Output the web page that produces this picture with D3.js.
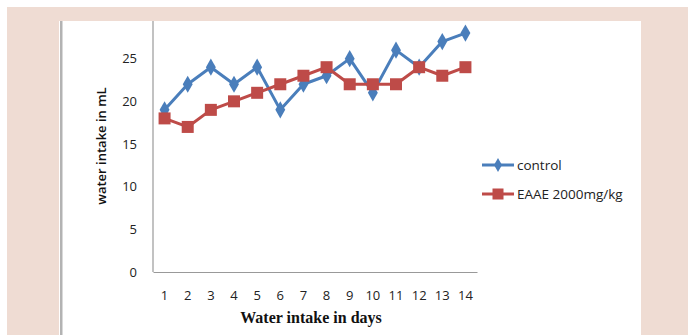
<!DOCTYPE html>
<html>
<head>
<meta charset="utf-8">
<script src="https://cdn.jsdelivr.net/npm/d3@7/dist/d3.min.js"></script>
<style>
  html, body { margin: 0; padding: 0; background: #fff; }
  svg { display: block; }
</style>
</head>
<body>
<svg id="chart" width="688" height="335"></svg>
<script>
// Daily water intake (mL) over 14 days
const days = [1, 2, 3, 4, 5, 6, 7, 8, 9, 10, 11, 12, 13, 14];
const controlValues = [19, 22, 24, 22, 24, 19, 22, 23, 25, 21, 26, 24, 27, 28];
const eaaeValues = [18, 17, 19, 20, 21, 22, 23, 24, 22, 22, 22, 24, 23, 24];
const yTicks = [0, 5, 10, 15, 20, 25];
const seriesNames = ["control", "EAAE 2000mg/kg"];

const svg = d3.select("#chart");
const pink = "#efdcd3";
const blue = "#4a7ebb";
const red = "#be4b48";
const sans = "'Open Sans', 'Noto Sans', sans-serif";

// plot area
const left = 153, right = 477, bottom = 272;
const x = d3.scaleBand().domain(days).range([left, right]);
const y = d3.scaleLinear().domain([0, 30]).range([bottom, bottom - 256]);

const plot = svg.append("g");

// value axis (labels only, plus the vertical rule)
const yAxis = d3.axisLeft(y).tickValues(yTicks).tickSize(0).tickPadding(10);
const gy = plot.append("g").attr("transform", `translate(${left},0)`).call(yAxis);
gy.select(".domain").remove();
gy.selectAll("text")
  .attr("font-family", sans)
  .attr("font-size", 13).attr("fill", "#222").attr("dx", "-6");

plot.append("line")
  .attr("x1", left).attr("x2", left)
  .attr("y1", 21).attr("y2", bottom)
  .attr("stroke", "#999").attr("stroke-width", 1.2);

// category axis
const xAxis = d3.axisBottom(x).tickSize(0).tickPadding(19);
const gx = plot.append("g").attr("transform", `translate(0,${bottom})`).call(xAxis);
gx.select(".domain").attr("stroke", "#999").attr("stroke-width", 1.2);
gx.selectAll("text")
  .attr("font-family", sans)
  .attr("font-size", 13).attr("fill", "#222");

// axis titles
svg.append("text")
  .attr("x", 311).attr("y", 323)
  .attr("text-anchor", "middle")
  .attr("font-family", "'Liberation Serif', 'Times New Roman', serif")
  .attr("font-weight", "bold").attr("font-size", 16).attr("fill", "#111")
  .text("Water intake in days");

svg.append("text")
  .attr("transform", "translate(106,146) rotate(-90)")
  .attr("text-anchor", "middle")
  .attr("font-family", sans)
  .attr("font-weight", 600).attr("font-size", 13).attr("fill", "#111")
  .text("water intake in mL");

const cx = d => x(d) + x.bandwidth() / 2;
const line = d3.line().x((v, i) => cx(days[i])).y(v => y(v));

const diamond = d3.symbol().type(d3.symbolDiamond).size(85);

// control series
plot.append("path").datum(controlValues)
  .attr("d", line).attr("fill", "none")
  .attr("stroke", blue).attr("stroke-width", 3).attr("stroke-linejoin", "round");
plot.selectAll(".ctrl").data(controlValues).join("path")
  .attr("class", "ctrl")
  .attr("d", diamond)
  .attr("transform", (v, i) => `translate(${cx(days[i])},${y(v)})`)
  .attr("fill", blue);

// EAAE series
plot.append("path").datum(eaaeValues)
  .attr("d", line).attr("fill", "none")
  .attr("stroke", red).attr("stroke-width", 3).attr("stroke-linejoin", "round");
plot.selectAll(".eaae").data(eaaeValues).join("rect")
  .attr("class", "eaae")
  .attr("x", (v, i) => cx(days[i]) - 6).attr("y", v => y(v) - 6)
  .attr("width", 12).attr("height", 12)
  .attr("fill", red);

// legend
const legend = svg.append("g");
const legendRows = [
  { name: seriesNames[0], color: blue, y: 165 },
  { name: seriesNames[1], color: red, y: 194 }
];
legendRows.forEach((r, i) => {
  legend.append("line")
    .attr("x1", 482).attr("x2", 514).attr("y1", r.y).attr("y2", r.y)
    .attr("stroke", r.color).attr("stroke-width", 3);
  if (i === 0) {
    legend.append("path").attr("d", d3.symbol().type(d3.symbolDiamond).size(55))
      .attr("transform", `translate(498,${r.y})`).attr("fill", r.color);
  } else {
    legend.append("rect").attr("x", 492.5).attr("y", r.y - 5.5)
      .attr("width", 11).attr("height", 11).attr("fill", r.color);
  }
  legend.append("text")
    .attr("x", 517).attr("y", r.y).attr("dy", "0.35em")
    .attr("font-family", sans)
    .attr("font-size", 13.5).attr("fill", "#222")
    .text(r.name);
});

// page frame
svg.append("rect").attr("x", 7).attr("y", 7).attr("width", 681).attr("height", 14).attr("fill", pink);
svg.append("rect").attr("x", 7).attr("y", 7).attr("width", 52).attr("height", 328).attr("fill", pink);
svg.append("rect").attr("x", 641).attr("y", 7).attr("width", 47).attr("height", 328).attr("fill", pink);
svg.append("rect").attr("x", 60).attr("y", 21).attr("width", 2.5).attr("height", 314).attr("fill", "#b3b3b3");
</script>
</body>
</html>
